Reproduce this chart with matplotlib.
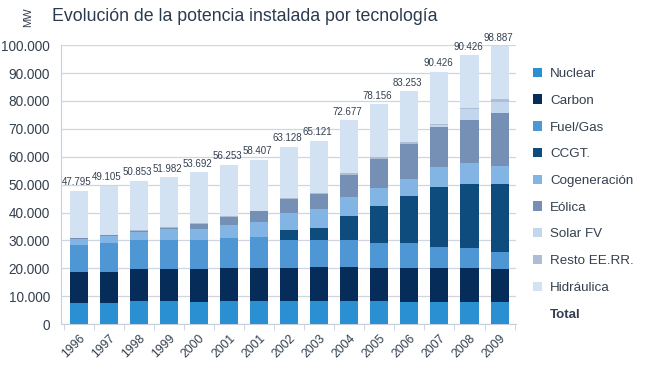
import matplotlib.pyplot as plt
from matplotlib.patches import Patch
import numpy as np

plt.rcParams['font.family'] = ['Liberation Sans', 'DejaVu Sans']

years = ['1996', '1997', '1998', '1999', '2000', '2001', '2001', '2002',
         '2003', '2004', '2005', '2006', '2007', '2008', '2009']
total_labels = ['47.795', '49.105', '50.853', '51.982', '53.692', '56.253', '58.407',
                '63.128', '65.121', '72.677', '78.156', '83.253', '90.426', '90.426', '98.887']

# MW
nuclear = [7600, 7600, 8200, 8200, 8100, 8300, 8300, 8300, 8400, 8400, 8400, 8000, 8000, 8000, 8000]
carbon = [11000, 11000, 11600, 11600, 11600, 11700, 11700, 11700, 12200, 12200, 11600, 12000, 12000, 12000, 11700]
fuel_gas = [9900, 10600, 10400, 10400, 10500, 10800, 11400, 10200, 9600, 9600, 9000, 9200, 7800, 7200, 6300]
ccgt = [0, 0, 0, 0, 0, 0, 0, 3600, 4400, 8600, 13400, 16600, 21400, 23200, 24400]
cogeneracion = [2000, 2400, 2800, 3800, 3800, 4800, 5200, 6000, 6800, 6600, 6400, 6200, 7200, 7200, 6400]
eolica = [200, 300, 500, 500, 1900, 2800, 3800, 5200, 5400, 8100, 10400, 12600, 14400, 15400, 18700]
solar_fv = [0, 0, 0, 0, 0, 0, 0, 0, 0, 0, 0, 100, 500, 4000, 4100]
resto = [200, 200, 200, 200, 200, 200, 200, 200, 300, 700, 600, 500, 300, 600, 1000]
hidraulica = [16900, 17500, 17700, 17900, 18300, 18600, 18400, 18400, 18700, 18900, 19000, 18400, 18900, 18900, 19000]

series = [
    ('Nuclear', nuclear, '#2a90d2'),
    ('Carbon', carbon, '#062d5a'),
    ('Fuel/Gas', fuel_gas, '#4f96d4'),
    ('CCGT.', ccgt, '#0e4c7e'),
    ('Cogeneración', cogeneracion, '#82b5e3'),
    ('Eólica', eolica, '#7690b5'),
    ('Solar FV', solar_fv, '#c2d7ee'),
    ('Resto EE.RR.', resto, '#aebdd3'),
    ('Hidráulica', hidraulica, '#d3e2f3'),
]

txt = '#34404f'
fig = plt.figure(figsize=(6.5, 3.76), dpi=100)
ax = fig.add_axes([0.094, 0.138, 0.70, 0.742])

x = np.arange(len(years))
bottom = np.zeros(len(years))
handles = []
for name, vals, col in series:
    ax.bar(x, vals, 0.6, bottom=bottom, color=col, zorder=3)
    bottom += np.array(vals)
    handles.append(Patch(facecolor=col, label=name))

for xi, top, lab in zip(x, bottom, total_labels):
    ax.text(xi - 0.05, top + 1200, lab, ha='center', va='bottom', fontsize=7, color=txt)

ax.set_ylim(0, 100000)
ax.set_xlim(-0.58, 14.55)
yt = np.arange(0, 100001, 10000)
ax.set_yticks(yt)
ax.set_yticklabels(['0' if v == 0 else f'{v // 1000}.000' for v in yt], fontsize=9.8, color=txt)
ax.set_xticks(x)
ax.set_xticklabels(years, rotation=45, ha='right', rotation_mode='anchor', fontsize=8.8, color=txt)
ax.set_xticks(np.arange(-0.5, 15, 1), minor=True)
ax.tick_params(axis='x', which='major', length=0, pad=6)
ax.tick_params(axis='x', which='minor', length=4, color='#c8cfdc')
ax.tick_params(axis='y', length=0, pad=8)
ax.grid(axis='y', color='#cfd5e3', linewidth=0.9, zorder=0)
for s in ['top', 'right']:
    ax.spines[s].set_visible(False)
for s in ['left', 'bottom']:
    ax.spines[s].set_color('#c8cfdc')

handles.append(Patch(facecolor='none', edgecolor='none', label='Total'))
leg = ax.legend(handles=handles, loc='upper left', bbox_to_anchor=(1.01, 0.962),
                frameon=False, fontsize=9.6, handlelength=0.7, handleheight=0.7,
                handletextpad=0.6, labelspacing=1.08, labelcolor=txt)
leg.get_texts()[-1].set_fontweight('bold')

fig.text(0.08, 0.955, 'Evolución de la potencia instalada por tecnología',
         fontsize=12.8, color='#2b3a4f', va='center')
fig.text(0.043, 0.955, 'MW', rotation=90, fontsize=8, color=txt, va='center', ha='center')

fig.savefig('out.png', dpi=100)
